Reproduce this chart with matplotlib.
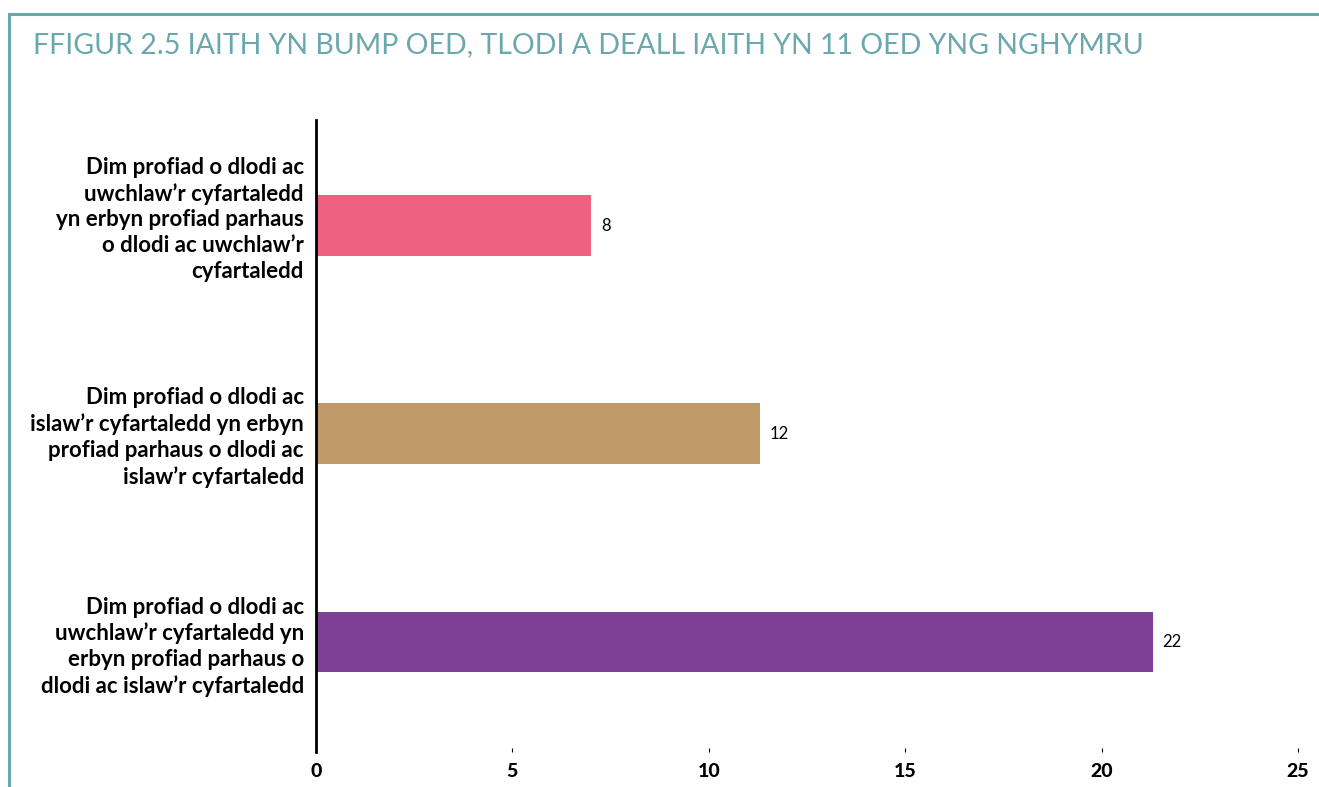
import matplotlib
matplotlib.use("Agg")
import matplotlib.pyplot as plt
from matplotlib.patches import Rectangle
from matplotlib.transforms import offset_copy

plt.rcParams['font.family'] = ['Lato', 'DejaVu Sans']

title = "FFIGUR 2.5 IAITH YN BUMP OED, TLODI A DEALL IAITH YN 11 OED YNG NGHYMRU"
categories = [
    "Dim profiad o dlodi ac\nuwchlaw\u2019r cyfartaledd\nyn erbyn profiad parhaus\no dlodi ac uwchlaw\u2019r\ncyfartaledd",
    "Dim profiad o dlodi ac\nislaw\u2019r cyfartaledd yn erbyn\nprofiad parhaus o dlodi ac\nislaw\u2019r cyfartaledd",
    "Dim profiad o dlodi ac\nuwchlaw\u2019r cyfartaledd yn\nerbyn profiad parhaus o\ndlodi ac islaw\u2019r cyfartaledd",
]
values = [7.0, 11.3, 21.3]
value_labels = ["8", "12", "22"]
colors = ["#f06080", "#c09968", "#7f3f97"]
xticks = [0, 5, 10, 15, 20, 25]

W, H = 1319, 787
fig = plt.figure(figsize=(W / 100, H / 100), dpi=100)

teal = "#6aa8ad"
# frame
fig.add_artist(Rectangle((9 / W, -0.05), 1.2, (H - 13.5) / H + 0.05, transform=fig.transFigure,
                         fill=False, edgecolor=teal, linewidth=2.2))
fig.text(33 / W, 1 - 45 / H, title, color=teal, fontsize=20.5, va="center", ha="left")

ax = fig.add_axes([316 / W, 1 - 752 / H, (1298 - 316) / W, (752 - 120) / H])
ypos = list(range(len(values)))
ax.barh(ypos, values, height=0.29, color=colors)
for y, v, lab in zip(ypos, values, value_labels):
    ax.text(v + 0.25, y, lab, va="center", ha="left", fontsize=12)

ax.set_xlim(0, 25)
ax.set_ylim(2.53, -0.507)
ax.set_yticks(ypos)
ax.set_yticklabels([])
ax.tick_params(axis="y", length=0)
label_shift_px = [6, -4, -5]
for y, cat, dy in zip(ypos, categories, label_shift_px):
    tr = offset_copy(ax.get_yaxis_transform(), fig=fig, x=-12, y=dy, units="dots")
    ax.text(0, y, cat, transform=tr, ha="right", va="center", fontsize=16,
            fontweight="bold", linespacing=1.28)
ax.set_xticks(xticks)
ax.set_xticklabels([str(t) for t in xticks])
ax.tick_params(axis="x", length=3, width=0.8, pad=8, direction="in", labelsize=14)
for lab in ax.get_xticklabels():
    lab.set_fontweight(900)
for s in ["top", "right", "bottom"]:
    ax.spines[s].set_visible(False)
ax.spines["left"].set_linewidth(2)

fig.savefig("out.png", dpi=100)
